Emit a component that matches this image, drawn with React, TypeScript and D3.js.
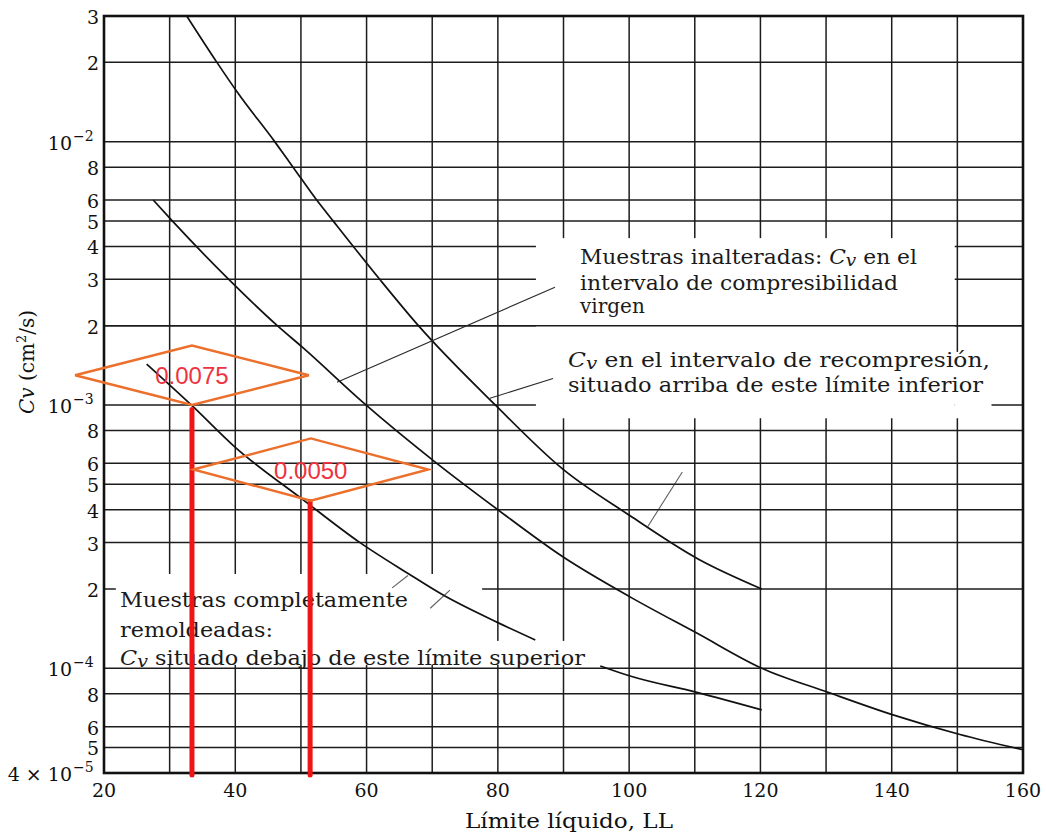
import React from "react";
import * as d3 from "d3";

const W = 1046;
const H = 833;

// Liquid limit axis
const llTicks = [20, 40, 60, 80, 100, 120, 140, 160];
const llGrid = [20, 30, 40, 50, 60, 70, 80, 90, 100, 110, 120, 130, 140, 150, 160];

// Cv axis (cm²/s), log scale
const cvGrid = [3e-2, 2e-2, 1e-2, 8e-3, 6e-3, 5e-3, 4e-3, 3e-3, 2e-3, 1e-3, 8e-4, 6e-4, 5e-4, 4e-4, 3e-4, 2e-4, 1e-4, 8e-5, 6e-5, 5e-5, 4e-5];
const cvTickMantissa = ["3", "2", "10", "8", "6", "5", "4", "3", "2", "10", "8", "6", "5", "4", "3", "2", "10", "8", "6", "5", "4 × 10"];
const cvTickExponent = ["", "", "−2", "", "", "", "", "", "", "−3", "", "", "", "", "", "", "−4", "", "", "", "−5"];

// Lower limit of Cv in the recompression range
const recompLL = [32.6, 37.2, 40.4, 46.0, 48.8, 52.4, 54.9, 62.0, 67.9, 79.6, 89.9, 100.1, 110.5, 120.2];
const recompCv = [3.0e-2, 2.0e-2, 1.53e-2, 1.0e-2, 8.0e-3, 6.0e-3, 5.0e-3, 3.0e-3, 2.0e-3, 1.0e-3, 5.7e-4, 3.8e-4, 2.6e-4, 2.0e-4];

// Undisturbed samples, virgin compression range
const virginLL = [27.5, 30.4, 38.7, 46.4, 50.3, 59.5, 70.7, 80.0, 89.9, 100.4, 110.3, 120.2, 130.3, 140.2, 150.4, 160];
const virginCv = [6.0e-3, 5.0e-3, 3.05e-3, 2.0e-3, 1.65e-3, 1.02e-3, 6.0e-4, 4.0e-4, 2.65e-4, 1.85e-4, 1.36e-4, 1.0e-4, 8.1e-5, 6.65e-5, 5.6e-5, 4.9e-5];

// Completely remolded samples, upper limit (broken where the note crosses it)
const remoldLL = [26.5, 33.3, 40.0, 50.3, 59.0, 66.2, 71.6, 80.0, 85.7, 90.0, 95.6, 100.4, 110.3, 120.2];
const remoldCv = [1.43e-3, 1.0e-3, 6.9e-4, 4.37e-4, 3.0e-4, 2.3e-4, 1.9e-4, 1.49e-4, 1.28e-4, null, 1.02e-4, 9.3e-5, 8.1e-5, 6.95e-5];

// Read-off annotations: liquid limit, Cv where the guide meets the curve
const readLL = [33.4, 51.4];
const readCv = [9.6e-4, 4.3e-4];
const readLabels = ["0.0075", "0.0050"];
// Callout diamonds: left / right liquid limit, top / bottom Cv
const calloutLeft = [15.6, 33.6];
const calloutRight = [51.2, 69.4];
const calloutTop = [1.68e-3, 7.46e-4];
const calloutBottom = [1.0e-3, 4.33e-4];

// Knock-outs of the grid behind the printed notes: [LL0, LL1, CvHigh, CvLow]
const gridGaps: [number, number, number, number][] = [
  [85.8, 149.6, 4.3e-3, 8.9e-4],
  [149.6, 155.2, 1.59e-3, 8.9e-4],
  [21.8, 77.6, 2.28e-4, 1.03e-4],
  [77.6, 95.3, 1.27e-4, 1.03e-4],
];
const gridOverNotes = [2e-3];

// Leader strokes from the notes to the curves: [LL0, Cv0, LL1, Cv1]
const leaders: [number, number, number, number][] = [
  [88.7, 2.8e-3, 55.5, 1.22e-3],
  [88.4, 1.26e-3, 78.8, 1.06e-3],
  [108.1, 5.56e-4, 102.7, 3.41e-4],
  [63.9, 2.02e-4, 66.3, 2.25e-4],
  [69.7, 1.69e-4, 72.7, 1.98e-4],
];

const SERIF = "'DejaVu Serif', 'Liberation Serif', serif";
const SANS = "'Liberation Sans', Arial, sans-serif";
const INK = "#1c1c1c";
const NOTE_SIZE = 20;

function Cv() {
  return (
    <>
      <tspan fontStyle="italic">C</tspan>
      <tspan fontStyle="italic" fontSize={NOTE_SIZE * 0.85} dy={2}>v</tspan>
      <tspan dy={-2}> </tspan>
    </>
  );
}

export default function App() {
  const x = d3.scaleLinear().domain([20, 160]).range([104, 1023]);
  const y = d3.scaleLog().domain([4e-5, 3e-2]).range([773, 16]);

  const line = d3
    .line<[number, number | null]>()
    .defined((d) => d[1] != null)
    .x((d) => x(d[0]))
    .y((d) => y(d[1] as number))
    .curve(d3.curveMonotoneX);

  const series = [
    recompLL.map((v, i) => [v, recompCv[i]] as [number, number | null]),
    virginLL.map((v, i) => [v, virginCv[i]] as [number, number | null]),
    remoldLL.map((v, i) => [v, remoldCv[i]] as [number, number | null]),
  ];

  const [x0, x1] = x.range();
  const [yb, yt] = y.range();

  return (
    <svg width={W} height={H} style={{ position: "absolute", left: 0, top: 0, background: "#fff" }}>
      <rect width={W} height={H} fill="#fff" />

      {/* grid */}
      <g stroke={INK} strokeWidth={1.5}>
        {llGrid.map((v) => (
          <line key={"v" + v} x1={x(v)} x2={x(v)} y1={yt} y2={yb} />
        ))}
        {cvGrid.map((v) => (
          <line key={"h" + v} x1={x0} x2={x1} y1={y(v)} y2={y(v)} />
        ))}
      </g>

      {/* grid gaps behind printed notes */}
      <g fill="#fff">
        {gridGaps.map(([a, b, hi, lo], i) => (
          <rect key={i} x={x(a)} y={y(hi)} width={x(b) - x(a)} height={y(lo) - y(hi)} />
        ))}
      </g>
      <g stroke={INK} strokeWidth={1.5}>
        {gridOverNotes.map((v) => (
          <line key={v} x1={x0} x2={x1} y1={y(v)} y2={y(v)} />
        ))}
      </g>

      {/* frame */}
      <rect x={x0} y={yt} width={x1 - x0} height={yb - yt} fill="none" stroke="#111" strokeWidth={2.6} />

      {/* curves */}
      <g fill="none" stroke="#111" strokeWidth={1.7}>
        {series.map((s, i) => (
          <path key={i} d={line(s) || ""} />
        ))}
      </g>

      {/* leaders */}
      <g stroke="#2a2a2a" strokeWidth={1.1}>
        {leaders.map(([a, ca, b, cb], i) => (
          <line key={i} x1={x(a)} y1={y(ca)} x2={x(b)} y2={y(cb)} opacity={i >= 2 ? 0.75 : 1} />
        ))}
      </g>

      {/* printed notes */}
      <g fontFamily={SERIF} fontSize={NOTE_SIZE} fill="#1a1a1a">
        <text x={580} y={264} textLength={337} lengthAdjust="spacingAndGlyphs">
          Muestras inalteradas: <Cv />en el
        </text>
        <text x={580} y={290} textLength={318} lengthAdjust="spacingAndGlyphs">
          intervalo de compresibilidad
        </text>
        <text x={580} y={313}>
          virgen
        </text>

        <text x={568} y={367} textLength={422} lengthAdjust="spacingAndGlyphs">
          <Cv />en el intervalo de recompresión,
        </text>
        <text x={568} y={392} textLength={415} lengthAdjust="spacingAndGlyphs">
          situado arriba de este límite inferior
        </text>

        <text x={120} y={607} textLength={288} lengthAdjust="spacingAndGlyphs">
          Muestras completamente
        </text>
        <text x={120} y={637} textLength={153} lengthAdjust="spacingAndGlyphs">
          remoldeadas:
        </text>
        <text x={120} y={665} textLength={465} lengthAdjust="spacingAndGlyphs">
          <Cv />situado debajo de este límite superior
        </text>
      </g>

      {/* tick labels */}
      <g fontFamily={SERIF} fontSize={19} fill="#111">
        {cvGrid.map((v, i) => (
          <text key={"yl" + v} x={cvTickExponent[i] ? 72 : 99} y={y(v) + 8} textAnchor="end">
            {cvTickMantissa[i]}
            {cvTickExponent[i] ? (
              <tspan x={72} dx={1} dy={-9} fontSize={14} textAnchor="start">
                {cvTickExponent[i]}
              </tspan>
            ) : null}
          </text>
        ))}
        {llTicks.map((v) => (
          <text key={"xl" + v} x={x(v)} y={797} textAnchor="middle">
            {v}
          </text>
        ))}
      </g>

      {/* axis titles */}
      <text x={569} y={828} textAnchor="middle" fontFamily={SERIF} fontSize={21} fill="#111" textLength={208} lengthAdjust="spacingAndGlyphs">
        Límite líquido, LL
      </text>
      <text transform="translate(34,362) rotate(-90)" textAnchor="middle" fontFamily={SERIF} fontSize={20} fill="#111">
        <tspan fontStyle="italic">Cv</tspan> (cm<tspan fontSize={13} dy={-8}>2</tspan>
        <tspan dy={8}>/s)</tspan>
      </text>

      {/* read-off guides */}
      <g stroke="#f01414" strokeWidth={5} strokeLinecap="round">
        {readLL.map((v, i) => (
          <line key={"r" + i} x1={x(v)} x2={x(v)} y1={y(readCv[i])} y2={yb + 2} />
        ))}
      </g>
      <g fill="none" stroke="#ec6f2c" strokeWidth={2.4} strokeLinejoin="miter">
        {readLabels.map((_, i) => {
          const xl = x(calloutLeft[i]);
          const xr = x(calloutRight[i]);
          const xm = (xl + xr) / 2;
          const ytp = y(calloutTop[i]);
          const ybt = y(calloutBottom[i]);
          const ym = (ytp + ybt) / 2;
          return <polygon key={"d" + i} points={`${xl},${ym} ${xm},${ytp} ${xr},${ym} ${xm},${ybt}`} />;
        })}
      </g>
      <g fontFamily={SANS} fontSize={24} fill="#ee3340" textAnchor="middle">
        {readLabels.map((t, i) => {
          const xm = (x(calloutLeft[i]) + x(calloutRight[i])) / 2;
          const ym = (y(calloutTop[i]) + y(calloutBottom[i])) / 2;
          return (
            <text key={"t" + i} x={xm} y={ym + 9}>
              {t}
            </text>
          );
        })}
      </g>
    </svg>
  );
}
